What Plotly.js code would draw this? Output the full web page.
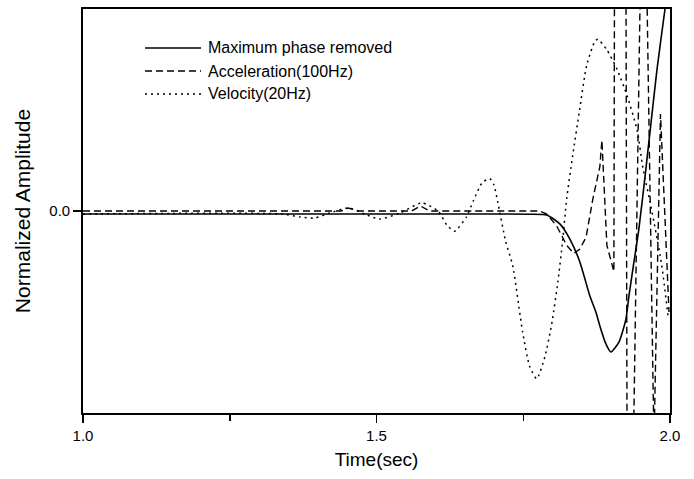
<!DOCTYPE html>
<html>
<head>
<meta charset="utf-8">
<script src="https://cdn.plot.ly/plotly-3.0.1.min.js"></script>
<style>html,body{margin:0;padding:0;background:#fff;}#chart{width:694px;height:479px;}</style>
</head>
<body>
<div id="chart"></div>
<script>
// Maximum phase removed (solid)
var timeMax = [1.0, 1.2, 1.4, 1.6, 1.7, 1.76, 1.790, 1.8123, 1.8294, 1.8464, 1.8635, 1.8737, 1.8805, 1.8908, 1.8993, 1.9130, 1.9249, 1.930, 1.9386, 1.947, 1.959, 1.9778, 1.9915, 2.0];
var ampMax  = [-0.015, -0.015, -0.015, -0.015, -0.015, -0.016, -0.02, -0.064, -0.139, -0.252, -0.421, -0.50, -0.569, -0.658, -0.698, -0.649, -0.535, -0.421, -0.252, -0.089, 0.21, 0.70, 1.0, 1.19];

// Acceleration (100Hz) (dashed)
var timeAcc = [1.0, 1.2, 1.44, 1.452, 1.47, 1.56, 1.575, 1.59, 1.778, 1.790, 1.807, 1.824, 1.836, 1.846, 1.857, 1.8686, 1.8805, 1.884, 1.8925, 1.9044, 1.9147, 1.9283, 1.9548, 1.9727, 1.9838, 1.9983];
var ampAcc  = [0.0, 0.0, 0.0, 0.015, 0.0, 0.0, 0.025, 0.0, 0.0, -0.015, -0.074, -0.17, -0.21, -0.19, -0.13, 0.06, 0.22, 0.35, -0.17, -0.3, 14, -3, 2.17, -1.15, 0.48, -0.5];

// Velocity (20Hz) (dotted)
var timeVel = [1.0, 1.34, 1.37, 1.395, 1.42, 1.452, 1.48, 1.505, 1.54, 1.577, 1.605, 1.62, 1.633, 1.653, 1.665, 1.68, 1.693, 1.70, 1.7065, 1.72, 1.732, 1.749, 1.761, 1.773, 1.787, 1.799, 1.809, 1.817, 1.824, 1.834, 1.846, 1.858, 1.872, 1.877, 1.892, 1.910, 1.927, 1.944, 1.954, 1.966, 1.975, 1.986, 1.997];
var ampVel  = [-0.015, -0.015, -0.03, -0.035, -0.01, 0.015, -0.015, -0.04, -0.01, 0.04, 0.0, -0.07, -0.10, -0.03, 0.05, 0.14, 0.16, 0.13, 0.045, -0.15, -0.27, -0.60, -0.77, -0.83, -0.72, -0.55, -0.35, -0.15, 0.06, 0.27, 0.50, 0.72, 0.84, 0.85, 0.80, 0.70, 0.57, 0.40, 0.21, 0.045, -0.09, -0.27, -0.53];

var seriesNames = ['Maximum phase removed', 'Acceleration(100Hz)', 'Velocity(20Hz)'];
var xTickVals = [1.0, 1.5, 2.0];
var xTickText = ['1.0', '1.5', '2.0'];
var xMinorTicks = [1.25, 1.75];
var yTickVals = [0];
var yTickText = ['0.0'];

var FONT = 'Liberation Sans, Arial, Helvetica, sans-serif';
var DASHES = ['solid', '7px,4px', '2px,4px'];
var WIDTHS = [1.6, 1.4, 1.5];
var SHAPES = ['spline', 'linear', 'spline'];

var traces = [
  {x: timeMax, y: ampMax, name: seriesNames[0], mode: 'lines', line: {color: '#000', width: WIDTHS[0], dash: DASHES[0], shape: SHAPES[0], smoothing: 0.6}},
  {x: timeAcc, y: ampAcc, name: seriesNames[1], mode: 'lines', line: {color: '#000', width: WIDTHS[1], dash: DASHES[1], shape: SHAPES[1]}},
  {x: timeVel, y: ampVel, name: seriesNames[2], mode: 'lines', line: {color: '#000', width: WIDTHS[2], dash: DASHES[2], shape: SHAPES[2], smoothing: 0.6}}
];

// custom legend (paper coordinates)
var L = 83, PW = 587, B = 413, PH = 404;
function px2paperX(p) { return (p - L) / PW; }
function px2paperY(p) { return (B - p) / PH; }
var legRows = [48, 71, 94];
var shapes = [], annotations = [];
seriesNames.forEach(function (nm, i) {
  shapes.push({type: 'line', xref: 'paper', yref: 'paper',
    x0: px2paperX(145), x1: px2paperX(201), y0: px2paperY(legRows[i]), y1: px2paperY(legRows[i]),
    line: {color: '#000', width: WIDTHS[i], dash: DASHES[i]}});
  annotations.push({xref: 'paper', yref: 'paper', x: px2paperX(206), y: px2paperY(legRows[i]),
    xanchor: 'left', yanchor: 'middle', showarrow: false, text: nm,
    font: {family: FONT, size: 16, color: '#000'}});
});

var layout = {
  width: 694, height: 479,
  margin: {l: 83, r: 24, t: 9, b: 66},
  paper_bgcolor: '#fff', plot_bgcolor: '#fff',
  font: {family: FONT, color: '#000', size: 15},
  showlegend: false,
  shapes: shapes,
  annotations: annotations,
  xaxis: {
    range: [1, 2], showgrid: false, zeroline: false,
    showline: true, linecolor: '#000', linewidth: 1.8, mirror: true,
    ticks: 'outside', ticklen: 8, tickwidth: 1.5, tickcolor: '#000',
    tickmode: 'array', tickvals: xTickVals, ticktext: xTickText,
    tickfont: {family: FONT, size: 15, color: '#000'},
    minor: {tickmode: 'array', tickvals: xMinorTicks, ticks: 'outside', ticklen: 6, tickwidth: 1.5, tickcolor: '#000', showgrid: false},
    title: {text: 'Time(sec)', font: {family: FONT, size: 19, color: '#000'}, standoff: 10}
  },
  yaxis: {
    range: [-1, 1], showgrid: false, zeroline: false,
    showline: true, linecolor: '#000', linewidth: 1.8, mirror: true,
    ticks: 'outside', ticklen: 8, tickwidth: 1.5, tickcolor: '#000',
    tickmode: 'array', tickvals: yTickVals, ticktext: yTickText,
    tickfont: {family: FONT, size: 15, color: '#000'},
    title: {text: 'Normalized Amplitude', font: {family: FONT, size: 21, color: '#000'}, standoff: 13}
  }
};

Plotly.newPlot('chart', traces, layout, {displayModeBar: false, staticPlot: true});
</script>
</body>
</html>
